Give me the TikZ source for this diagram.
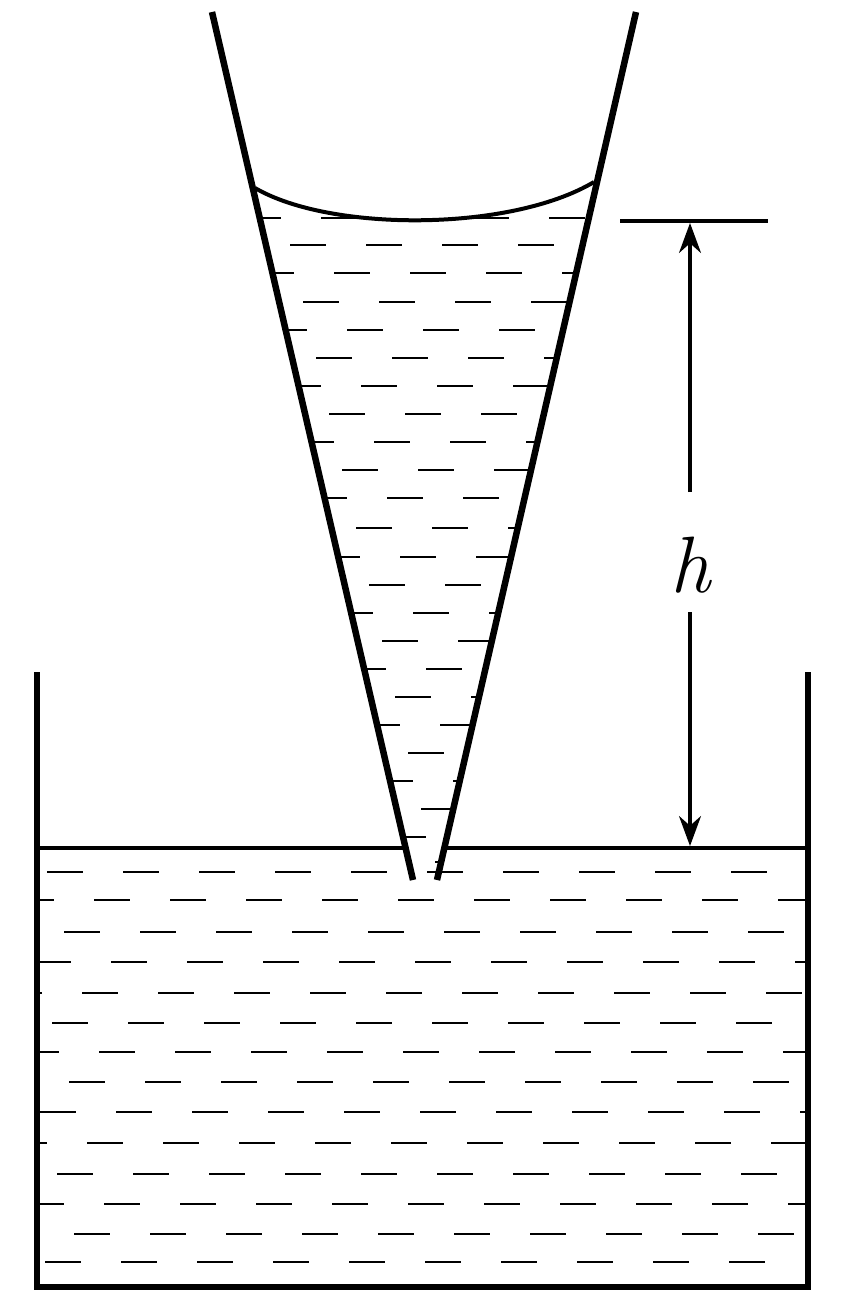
\documentclass[tikz,border=0pt]{standalone}
\usetikzlibrary{arrows.meta}
\begin{document}
\begin{tikzpicture}[x=1pt,y=-1pt,
  wall/.style={line width=6.5pt},
  thin/.style={line width=4pt},
  dsh/.style={line width=2.8pt},
  dim/.style={line width=3.2pt,-{Stealth[length=30pt,width=22pt]}}]
\useasboundingbox (0,0) rectangle (849,1303);
% beaker water dashes
\begin{scope}
\clip (40,856) rectangle (805,1282);
\foreach \y [count=\i] in {872,900,932,962,993,1023,1052,1082,1112,1143,1174,1204,1234,1262}{
  \pgfmathsetmacro\ph{mod(\i*29,75)}
  \draw[dsh,dash pattern=on 36pt off 40pt,dash phase=\ph pt] (0,\y) -- (849,\y);
}
\end{scope}
% cone water dashes
\begin{scope}
\clip (253,188) .. controls (330,232) and (510,232) .. (595,182) -- (437,880) -- (413,880) -- cycle;
\foreach \y [count=\i] in {218,245,273,302,330,358,386,414,442,470,498,528,557,585,613,641,669,697,725,753,781,809,837,862}{
  \pgfmathsetmacro\ph{mod(\i*31,75)}
  \draw[dsh,dash pattern=on 36pt off 40pt,dash phase=\ph pt] (200,\y) -- (650,\y);
}
\end{scope}
% cone
\coordinate (cl1) at (212,12); \coordinate (cl2) at (413,880);
\coordinate (cr1) at (636,12); \coordinate (cr2) at (437,880);
\draw[wall] (cl1) -- (cl2);
\draw[wall] (cr1) -- (cr2);
\draw[thin] (255,188) .. controls (330,232) and (510,232) .. (594,182);
% beaker
\draw[wall,line join=miter] (37,672) -- (37,1287) -- (808,1287) -- (808,672);
\draw[thin] (39,848) -- (408,848);
\draw[thin] (442,848) -- (806,848);
% dimension
\coordinate (t1) at (620,221); \coordinate (t2) at (768,221);
\draw[thin] (t1) -- (t2);
\node (h) at (690,565) {\fontsize{80}{80}\selectfont\itshape h};
\coordinate (a1) at (690,223); \coordinate (a2) at (690,846);
\draw[dim] (690,492) -- (a1);
\draw[dim] (690,612) -- (a2);
\end{tikzpicture}
\end{document}
